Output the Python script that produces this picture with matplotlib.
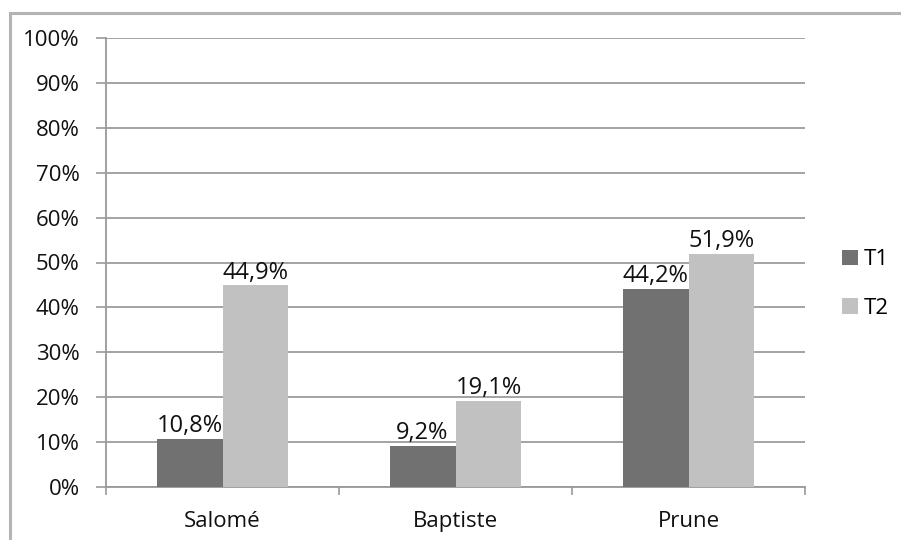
import matplotlib
matplotlib.use("Agg")
import matplotlib.pyplot as plt
import numpy as np
from matplotlib.lines import Line2D

categories = ["Salomé", "Baptiste", "Prune"]
series_names = ["T1", "T2"]
t1 = [10.8, 9.2, 44.2]
t2 = [44.9, 19.1, 51.9]
yticks = [0, 10, 20, 30, 40, 50, 60, 70, 80, 90, 100]

plt.rcParams['font.family'] = ['Open Sans', 'DejaVu Sans']
fs = 16
vfs = 17
tc = '#111111'

fig = plt.figure(figsize=(9.01, 5.40), dpi=100)
fig.lines.append(Line2D([10/901, 1.0], [1-13/540, 1-13/540], transform=fig.transFigure,
                        color='#b4b4b4', linewidth=2.2))
fig.lines.append(Line2D([10/901, 10/901], [0, 1-13/540], transform=fig.transFigure,
                        color='#b4b4b4', linewidth=2.2))
ax = fig.add_axes([106/901, 1-487/540, 699/901, 449/540])

x = np.arange(len(categories))
w = 0.283
colors = ['#717171', '#c1c1c1']
b1 = ax.bar(x - w/2, t1, w, color=colors[0], label=series_names[0], zorder=3)
b2 = ax.bar(x + w/2, t2, w, color=colors[1], label=series_names[1], zorder=3)

for bars, vals in ((b1, t1), (b2, t2)):
    for b, v in zip(bars, vals):
        ax.text(b.get_x() + b.get_width()/2, v + 0.2, f"{v:.1f}%".replace('.', ','),
                ha='center', va='bottom', fontsize=vfs, color=tc, zorder=4)

ax.set_xlim(-0.5, len(categories) - 0.5)
ax.set_ylim(0, 100)
ax.set_yticks(yticks)
ax.set_yticklabels([f"{v}%" for v in yticks], fontsize=fs, color=tc)
ax.set_xticks(x)
ax.set_xticklabels(categories, fontsize=fs, color=tc)
ax.tick_params(axis='x', length=0, pad=17)
ax.tick_params(axis='y', length=7, width=1.2, color='#999999', pad=12)
ax.set_xticks(np.arange(-0.5, len(categories)), minor=True)
ax.tick_params(axis='x', which='minor', length=6, width=1.2, color='#999999')

ax.yaxis.grid(True, color='#9c9c9c', linewidth=1.3, zorder=0)
ax.set_axisbelow(True)
for s in ['top', 'right']:
    ax.spines[s].set_visible(False)
for s in ['left', 'bottom']:
    ax.spines[s].set_color('#999999')
    ax.spines[s].set_linewidth(1.3)

fig.legend(handles=[b1, b2], labels=series_names, loc='center left',
           bbox_to_anchor=(822/901, 1-284/540), frameon=False, fontsize=fs,
           handlelength=0.7, handleheight=0.7, handletextpad=0.3, labelspacing=1.25)

fig.savefig("out.png", dpi=100)
